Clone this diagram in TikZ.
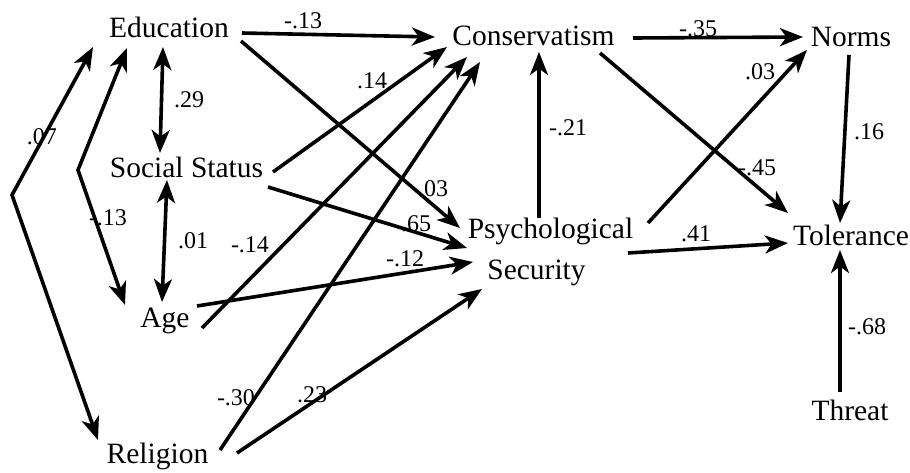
\documentclass[tikz,border=0pt]{standalone}
\usepackage{fontspec}
\setmainfont{Liberation Serif}
\usetikzlibrary{arrows.meta,calc}
\begin{document}
\begin{tikzpicture}[x=1pt,y=-1pt,
  var/.style={inner sep=0pt, anchor=base, font=\fontsize{29.5}{40}\selectfont},
  coef/.style={inner sep=0pt, anchor=center, font=\fontsize{24}{26}\selectfont},
  tip/.tip={Stealth[length=23pt,width=18pt,inset=6.5pt]},
  arr/.style={line width=3.6pt, -tip, line join=miter},
  dbl/.style={line width=3.6pt, tip-tip, line join=miter}]
\useasboundingbox (0,0) rectangle (910,472);
% variables
\node[var] (edu) at (169,37) {Education};
\node[var] (soc) at (186.5,177) {Social Status};
\node[var] (age) at (165,327) {Age};
\node[var] (rel) at (157.5,463) {Religion};
\node[var] (con) at (533.5,45) {Conservatism};
\node[var] (psy) at (550.5,238) {Psychological};
\node[var] (sec) at (536.5,279) {Security};
\node[var] (nor) at (851,46) {Norms};
\node[var] (tol) at (851,245) {Tolerance};
\node[var] (thr) at (850,420) {Threat};
\coordinate (v1) at (12,195);
\coordinate (v2) at (78,170);
% paths
\draw[arr] ($(edu.base)+(73,-4)$) -- ($(con.base)+(-98.5,-8)$);
\draw[arr] ($(edu.base)+(72,4)$) -- ($(psy.base)+(-90.5,-10)$);
\draw[arr] ($(soc.base)+(86.5,-5)$) -- ($(con.base)+(-86.5,2)$);
\draw[arr] ($(soc.base)+(81.5,10)$) -- ($(psy.base)+(-83.5,10)$);
\draw[arr] ($(age.base)+(37,1)$) -- ($(con.base)+(-66.5,12)$);
\draw[arr] ($(age.base)+(32,-21)$) -- ($(sec.base)+(-63.5,-17)$);
\draw[arr] ($(rel.base)+(62.5,-13)$) -- ($(con.base)+(-53.5,17)$);
\draw[arr] ($(rel.base)+(79.5,-10)$) -- ($(sec.base)+(-54.5,10)$);
\draw[arr] ($(psy.base)+(-11.5,-20)$) -- ($(con.base)+(5.5,7)$);
\draw[arr] ($(con.base)+(99.5,-7)$) -- ($(nor.base)+(-48,-9)$);
\draw[arr] ($(con.base)+(66.5,8)$) -- ($(tol.base)+(-63,-32)$);
\draw[arr] ($(psy.base)+(97.5,-15)$) -- ($(nor.base)+(-44,4)$);
\draw[arr] ($(sec.base)+(91.5,-26)$) -- ($(tol.base)+(-63,-2)$);
\draw[arr] ($(nor.base)+(-2,9)$) -- ($(tol.base)+(-11,-22)$);
\draw[arr] ($(thr.base)+(-10,-28)$) -- ($(tol.base)+(-11,5)$);
\draw[dbl] ($(edu.base)+(-6,10)$) -- ($(soc.base)+(-26.5,-24)$);
\draw[dbl] ($(soc.base)+(-19.5,3)$) -- ($(age.base)+(-3,-25)$);
\draw[dbl] ($(edu.base)+(-76,10)$) -- (v1) -- ($(rel.base)+(-59.5,-23)$);
\draw[dbl] ($(edu.base)+(-42,11)$) -- (v2) -- ($(age.base)+(-40,-22)$);
% coefficients
\node[coef] (c1) at (303,21) {-.13};
\node[coef] (c2) at (372,81) {.14};
\node[coef] (c3) at (433,189) {.03};
\node[coef] (c4) at (416,224) {.65};
\node[coef] (c5) at (250,245) {-.14};
\node[coef] (c6) at (405,259) {-.12};
\node[coef] (c7) at (236,398) {-.30};
\node[coef] (c8) at (312,395) {.23};
\node[coef] (c9) at (568,128) {-.21};
\node[coef] (c10) at (698,29) {-.35};
\node[coef] (c11) at (760,72) {.03};
\node[coef] (c12) at (757,168) {-.45};
\node[coef] (c13) at (696,234) {.41};
\node[coef] (c14) at (869,132) {.16};
\node[coef] (c15) at (867,327) {-.68};
\node[coef] (c16) at (189,100) {.29};
\node[coef] (c17) at (193,241) {.01};
\node[coef] (c18) at (42,137) {.07};
\node[coef] (c19) at (108,218) {-.13};
\end{tikzpicture}
\end{document}
